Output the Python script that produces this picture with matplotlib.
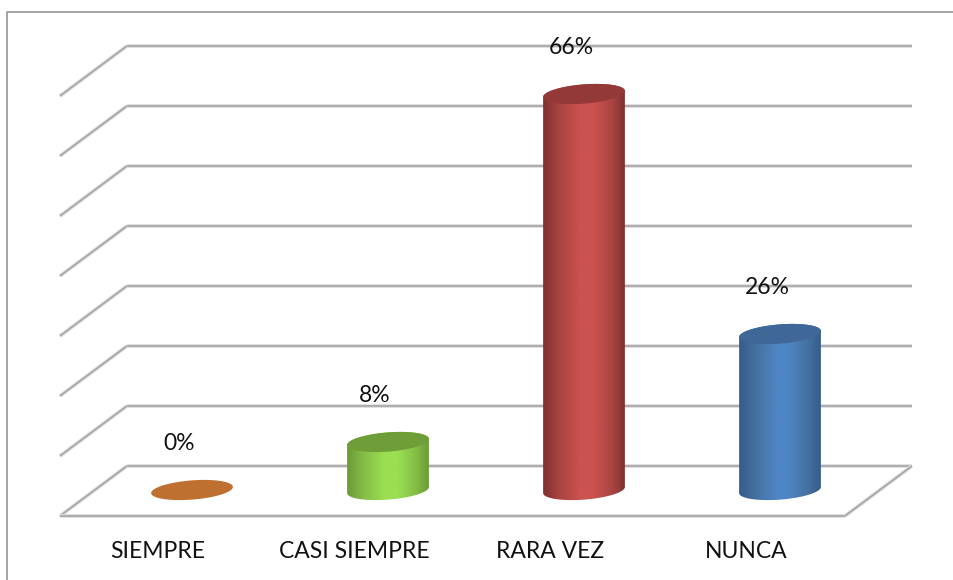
import numpy as np
import matplotlib
matplotlib.use('Agg')
import matplotlib.pyplot as plt
from matplotlib.colors import LinearSegmentedColormap
from matplotlib.patches import Polygon

categories = ['SIEMPRE', 'CASI SIEMPRE', 'RARA VEZ', 'NUNCA']
values = [0, 8, 66, 26]
grid_levels = [0, 10, 20, 30, 40, 50, 60, 70]

edge_colors = ['#a85f28', '#6b9a36', '#80312f', '#365c8a']
side_colors = ['#b56c30', '#84bd46', '#a94442', '#44709f']
mid_colors = ['#c27a38', '#9ade52', '#cb524f', '#5085c4']
top_colors = ['#bd7030', '#6f9e38', '#933a38', '#3f6797']

plt.rcParams['font.family'] = ['Lato', 'DejaVu Sans']

# one category = 196 px, 10% = 60 px
PX_X = 1 / 196
PX_Y = 1 / 6
ELL_A = 41
ELL_B = 9.6
ELL_ROT = np.deg2rad(4.5)

fig = plt.figure(figsize=(9.54, 5.8), dpi=100)
ax = fig.add_axes([0, 0, 1, 1])
ax.axis('off')

GRID = '#a4a4a4'


def line(x0, y0, x1, y1):
    # soft halo under the line, the original is slightly blurred
    ax.plot([x0, x1], [y0, y1], color='#e0e0e0', lw=2.8, solid_capstyle='butt', zorder=1)
    ax.plot([x0, x1], [y0, y1], color=GRID, lw=1.2, solid_capstyle='butt', zorder=1)


# depth of the 3D box, from the front plane to the back wall
depth_x = 67 * PX_X
depth_y = 50 * PX_Y
back_y = 4.0
left = -0.98 + 60 * PX_X
back_left = left + depth_x
back_right = back_left + 785 * PX_X

for lev in grid_levels:
    y = back_y + lev
    line(back_left, y, back_right, y)
    line(left, y - depth_y, back_left, y)
line(left, back_y - depth_y, back_right - depth_x, back_y - depth_y)
line(back_right - depth_x, back_y - depth_y, back_right, back_y)


def ellipse_arc(t):
    x = ELL_A * np.cos(t) * np.cos(ELL_ROT) - ELL_B * np.sin(t) * np.sin(ELL_ROT)
    y = ELL_A * np.cos(t) * np.sin(ELL_ROT) + ELL_B * np.sin(t) * np.cos(ELL_ROT)
    return x * PX_X, y * PX_Y


t0 = np.arctan2(-ELL_B * np.sin(ELL_ROT), ELL_A * np.cos(ELL_ROT))

for i, v in enumerate(values):
    # body with the horizontal shading clipped to the cylinder outline
    if v > 0:
        xb, yb = ellipse_arc(np.linspace(t0 - np.pi, t0, 60))
        xt, yt = ellipse_arc(np.linspace(t0, t0 + np.pi, 60))
        pts = np.column_stack([np.r_[i + xb, i + xt], np.r_[yb, v + yt]])
        body = Polygon(pts, closed=True, fc='none', ec='none', zorder=2)
        ax.add_patch(body)
        cmap = LinearSegmentedColormap.from_list(
            'c', [(0, edge_colors[i]), (0.2, side_colors[i]), (0.45, mid_colors[i]),
                  (0.62, mid_colors[i]), (0.85, side_colors[i]), (1, edge_colors[i])])
        im = ax.imshow(np.linspace(0, 1, 200).reshape(1, -1), cmap=cmap, aspect='auto',
                       extent=[i - 41 * PX_X, i + 41 * PX_X, -12 * PX_Y, v + 12 * PX_Y],
                       zorder=2, interpolation='bilinear')
        im.set_clip_path(body)
    xe, ye = ellipse_arc(np.linspace(0, 2 * np.pi, 120))
    ax.fill(i + xe, v + ye, color=top_colors[i], lw=0, zorder=3)
    ax.text(i - 13 * PX_X, v + 7.8, f'{v}%', ha='center', va='center',
            fontsize=16.5, color='#111111', zorder=4)
    ax.text(i - 34 * PX_X, -10.3, categories[i], ha='center', va='center',
            fontsize=16.5, color='#111111', zorder=4)

ax.set_xlim(-192 * PX_X, (954 - 192) * PX_X)
ax.set_ylim(-90 * PX_Y, 490 * PX_Y)

# outer frame of the chart area
frame_x = (7 - 192) * PX_X
frame_y = (490 - 12) * PX_Y
ax.plot([frame_x, frame_x, (954 - 192) * PX_X], [-90 * PX_Y, frame_y, frame_y],
        color='#8c8c8c', lw=1.1, zorder=1)

fig.savefig('out.png', dpi=100)
